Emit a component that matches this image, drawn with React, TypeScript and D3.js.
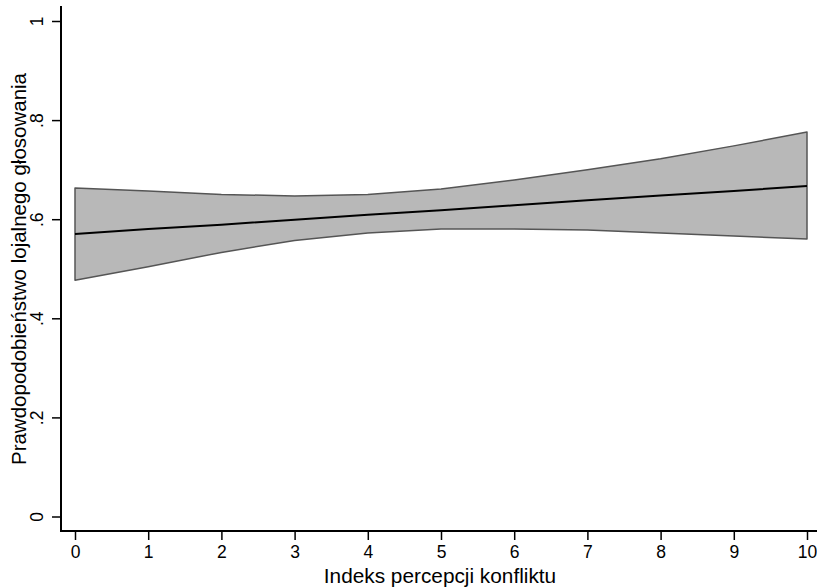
import * as d3 from "d3";
import React, { useEffect, useRef } from "react";

// conflict perception index
const xs = [0, 1, 2, 3, 4, 5, 6, 7, 8, 9, 10];
const upper = [0.663, 0.657, 0.65, 0.647, 0.65, 0.661, 0.679, 0.7, 0.722, 0.748, 0.776];
const lower = [0.477, 0.504, 0.533, 0.557, 0.572, 0.58, 0.58, 0.578, 0.572, 0.566, 0.56];
const pred = [0.57, 0.58, 0.589, 0.599, 0.609, 0.618, 0.628, 0.638, 0.648, 0.657, 0.667];
const yTicks = [0, 0.2, 0.4, 0.6, 0.8, 1];
const yTickLabels = ["0", ".2", ".4", ".6", ".8", "1"];

const App = () => {
  const svgRef = useRef<SVGSVGElement>(null);

  useEffect(() => {
    const svg = d3.select(svgRef.current);
    svg.selectAll("*").remove();
    const font = "'Liberation Sans', Arial, sans-serif";

    const x = d3.scaleLinear().domain([0, 10]).range([75, 807]);
    const y = d3.scaleLinear().domain([0, 1]).range([516.5, 21]);

    const rows = xs.map((v, i) => ({ x: v, lo: lower[i], hi: upper[i], p: pred[i] }));

    // confidence band
    const area = d3
      .area<any>()
      .x((d) => x(d.x))
      .y0((d) => y(d.lo))
      .y1((d) => y(d.hi));
    svg
      .append("path")
      .datum(rows)
      .attr("d", area)
      .attr("fill", "#b8b8b8")
      .attr("stroke", "#555")
      .attr("stroke-width", 1.5)
      .attr("stroke-linejoin", "round");

    // predicted line
    const line = d3
      .line<any>()
      .x((d) => x(d.x))
      .y((d) => y(d.p));
    svg
      .append("path")
      .datum(rows)
      .attr("d", line)
      .attr("fill", "none")
      .attr("stroke", "#000")
      .attr("stroke-width", 2);

    // y axis
    const yAxis = svg
      .append("g")
      .attr("transform", "translate(61,0)")
      .attr("font-size", 17.5)
      .attr("font-family", font)
      .call(
        d3
          .axisLeft(y)
          .tickValues(yTicks)
          .tickSize(9)
          .tickSizeOuter(0)
          .tickFormat((d, i) => yTickLabels[i])
      );
    yAxis.attr("font-size", 17.5).attr("font-family", font);
    yAxis.select(".domain").attr("d", "M0,6V531.5").attr("stroke-width", 2);
    yAxis.selectAll(".tick line").attr("stroke-width", 1.5);
    yAxis
      .selectAll(".tick text")
      .attr("transform", "rotate(-90)")
      .attr("x", 0)
      .attr("y", -24)
      .attr("dy", "0.35em")
      .attr("text-anchor", "middle")
      .style("font-size", "17.5px")
      .attr("fill", "#000");

    // x axis
    const xAxis = svg
      .append("g")
      .attr("transform", "translate(0,531)")
      .call(d3.axisBottom(x).tickValues(xs).tickSize(9).tickSizeOuter(0).tickFormat(d3.format("d")));
    xAxis.attr("font-size", 17.5).attr("font-family", font);
    xAxis.select(".domain").attr("d", "M60,0H817").attr("stroke-width", 2);
    xAxis.selectAll(".tick line").attr("stroke-width", 1.5);
    xAxis
      .selectAll(".tick text")
      .attr("y", 15)
      .style("font-size", "17.5px")
      .attr("fill", "#000");

    // titles
    svg
      .append("text")
      .attr("x", 440)
      .attr("y", 583)
      .attr("text-anchor", "middle")
      .attr("font-size", 20.8)
      .attr("font-family", font)
      .text("Indeks percepcji konfliktu");

    svg
      .append("text")
      .attr("transform", "translate(26,269) rotate(-90)")
      .attr("text-anchor", "middle")
      .attr("font-size", 20.5)
      .attr("font-family", font)
      .text("Prawdopodobieństwo lojalnego głosowania");
  }, []);

  return (
    <svg
      ref={svgRef}
      width={817}
      height={588}
      style={{ position: "absolute", left: 0, top: 0, background: "#fff" }}
    ></svg>
  );
};

export default App;
